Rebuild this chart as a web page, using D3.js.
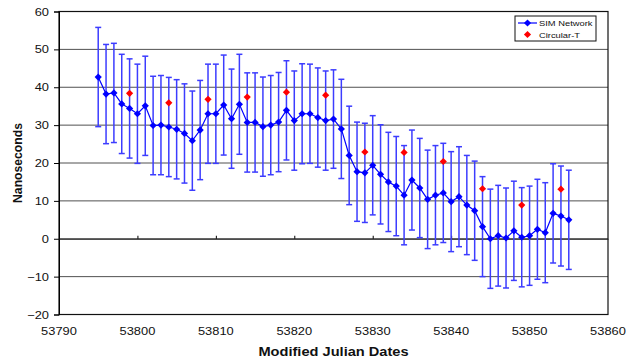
<!DOCTYPE html>
<html>
<head>
<meta charset="utf-8">
<script src="https://cdn.jsdelivr.net/npm/d3@7"></script>
<style>
  body { margin: 0; background: #fff; }
  text { font-family: "Liberation Sans", Arial, sans-serif; }
</style>
</head>
<body>
<svg id="chart" width="636" height="360"></svg>
<script>
// SIM Network daily values (MJD 53795..53855)
var simDates = d3.range(53795, 53856);
var simValues = [42.7, 38.2, 38.5, 35.6, 34.4, 33.0, 35.1, 29.9, 30.0, 29.5,
                 28.9, 27.8, 25.9, 28.7, 33.0, 33.0, 35.3, 31.7, 35.5, 30.7,
                 30.7, 29.6, 30.0, 30.8, 33.9, 31.2, 33.0, 33.0, 32.0, 31.2,
                 31.6, 29.0, 22.0, 17.7, 17.4, 19.4, 17.0, 15.0, 13.9, 11.5,
                 15.5, 13.4, 10.4, 11.5, 12.1, 9.8, 11.1, 8.9, 7.4, 3.2,
                 0.0, 0.8, 0.2, 2.1, 0.4, 0.8, 2.5, 1.6, 6.7, 6.0,
                 5.0];
var simErrors = [13.1, 13.1, 13.1, 13.1, 13.1, 13.1, 13.1, 13.0, 13.1, 13.1,
                 13.1, 13.1, 13.1, 13.1, 13.1, 13.1, 13.2, 13.1, 13.2, 13.1,
                 13.1, 13.1, 13.1, 13.1, 13.1, 13.1, 13.2, 13.1, 13.1, 13.1,
                 13.0, 13.1, 13.0, 13.1, 13.1, 13.1, 13.1, 13.1, 13.1, 13.1,
                 13.2, 13.1, 13.0, 13.1, 13.1, 13.2, 13.2, 13.1, 13.1, 13.2,
                 13.1, 13.3, 13.2, 13.1, 13.1, 13.1, 13.2, 13.2, 13.1, 13.2,
                 13.1];

// Circular-T values, every 5 days
var circDates = [53799, 53804, 53809, 53814, 53819, 53824, 53829, 53834, 53839, 53844, 53849, 53854];
var circValues = [38.4, 35.9, 36.8, 37.4, 38.7, 37.9, 22.9, 22.8, 20.4, 13.2, 8.9, 13.1];

var xTicks = [53790, 53800, 53810, 53820, 53830, 53840, 53850, 53860];
var yTicks = [-20, -10, 0, 10, 20, 30, 40, 50, 60];

var svg = d3.select("#chart"),
    plotLeft = 59, plotRight = 608, plotTop = 11.5, plotBottom = 314.5,
    stretch = 1.17;

var x = d3.scaleLinear().domain([53790, 53860]).range([plotLeft, plotRight]),
    y = d3.scaleLinear().domain([-20, 60]).range([plotBottom, plotTop]);

var sim = simDates.map(function(d, i) {
    return {mjd: d, value: simValues[i], err: simErrors[i]};
});
var circ = circDates.map(function(d, i) {
    return {mjd: d, value: circValues[i]};
});

// gridlines
svg.append("g")
    .selectAll("line")
    .data(yTicks.slice(1, -1))
    .enter().append("line")
    .attr("x1", plotLeft).attr("x2", plotRight)
    .attr("y1", function(d) { return y(d); })
    .attr("y2", function(d) { return y(d); })
    .attr("stroke", "#505050")
    .attr("stroke-width", 1);

// plot border
svg.append("rect")
    .attr("x", plotLeft).attr("y", plotTop)
    .attr("width", plotRight - plotLeft).attr("height", plotBottom - plotTop)
    .attr("fill", "none")
    .attr("stroke", "#111")
    .attr("stroke-width", 1.2);

// y axis
var yAxis = svg.append("g")
    .attr("transform", "translate(" + plotLeft + ",0)")
    .call(d3.axisLeft(y).tickValues(yTicks).tickSize(5).tickPadding(0));
yAxis.select(".domain").attr("stroke", "#000");
yAxis.selectAll("text")
    .attr("x", -10 / stretch)
    .attr("transform", "scale(" + stretch + ",1)")
    .attr("font-size", 11)
    .attr("fill", "#111")
    .style("font-family", "Liberation Sans, Arial, sans-serif");

// x axis labels along the bottom
var xAxis = svg.append("g")
    .attr("transform", "translate(0," + plotBottom + ")")
    .call(d3.axisBottom(x).tickValues(xTicks).tickSize(0).tickPadding(13).tickFormat(d3.format("d")));
xAxis.select(".domain").remove();
xAxis.selectAll("text")
    .attr("transform", "scale(" + stretch + ",1)")
    .attr("x", 0)
    .attr("font-size", 11)
    .attr("fill", "#111")
    .style("font-family", "Liberation Sans, Arial, sans-serif");
xAxis.selectAll(".tick")
    .attr("transform", function(d) { return "translate(" + x(d) + ",0)"; });

// x axis line crossing at zero
var zeroAxis = svg.append("g")
    .attr("transform", "translate(0," + y(0) + ")")
    .call(d3.axisTop(x).tickValues(xTicks.slice(1, -1)).tickSizeInner(3).tickSizeOuter(0).tickFormat(""));
zeroAxis.select(".domain").attr("stroke", "#222");

// error bars
var bars = svg.append("g")
    .attr("stroke", "#3c3cff")
    .attr("stroke-width", 1.5);
bars.selectAll(".stem")
    .data(sim)
    .enter().append("line")
    .attr("x1", function(d) { return x(d.mjd); })
    .attr("x2", function(d) { return x(d.mjd); })
    .attr("y1", function(d) { return y(d.value + d.err); })
    .attr("y2", function(d) { return y(d.value - d.err); });
bars.selectAll(".capTop")
    .data(sim)
    .enter().append("line")
    .attr("x1", function(d) { return x(d.mjd) - 3; })
    .attr("x2", function(d) { return x(d.mjd) + 3; })
    .attr("y1", function(d) { return y(d.value + d.err); })
    .attr("y2", function(d) { return y(d.value + d.err); });
bars.selectAll(".capBottom")
    .data(sim)
    .enter().append("line")
    .attr("x1", function(d) { return x(d.mjd) - 3; })
    .attr("x2", function(d) { return x(d.mjd) + 3; })
    .attr("y1", function(d) { return y(d.value - d.err); })
    .attr("y2", function(d) { return y(d.value - d.err); });

// SIM line and markers
var line = d3.line()
    .x(function(d) { return x(d.mjd); })
    .y(function(d) { return y(d.value); });
svg.append("path")
    .datum(sim)
    .attr("d", line)
    .attr("fill", "none")
    .attr("stroke", "#0000ff")
    .attr("stroke-width", 1.2);

var diamond = d3.symbol().type(d3.symbolSquare).size(26);
svg.append("g")
    .selectAll("path")
    .data(sim)
    .enter().append("path")
    .attr("d", diamond)
    .attr("transform", function(d) { return "translate(" + x(d.mjd) + "," + y(d.value) + ") rotate(45)"; })
    .attr("fill", "#0000ff");

svg.append("g")
    .selectAll("path")
    .data(circ)
    .enter().append("path")
    .attr("d", diamond)
    .attr("transform", function(d) { return "translate(" + x(d.mjd) + "," + y(d.value) + ") rotate(45)"; })
    .attr("fill", "#ff0000");

// axis titles
svg.append("text")
    .attr("transform", "translate(" + ((plotLeft + plotRight) / 2) + ",356) scale(" + stretch + ",1)")
    .attr("text-anchor", "middle")
    .attr("font-weight", "bold")
    .attr("font-size", 12.5)
    .attr("fill", "#111")
    .text("Modified Julian Dates");

svg.append("text")
    .attr("transform", "translate(22," + ((plotTop + plotBottom) / 2) + ") rotate(-90)")
    .attr("text-anchor", "middle")
    .attr("font-weight", "bold")
    .attr("font-size", 12.2)
    .attr("fill", "#111")
    .text("Nanoseconds");

// legend
var legend = svg.append("g").attr("transform", "translate(515,16)");
legend.append("rect")
    .attr("width", 81).attr("height", 25)
    .attr("fill", "#fff")
    .attr("stroke", "#111")
    .attr("stroke-width", 1);
legend.append("line")
    .attr("x1", 3).attr("x2", 22).attr("y1", 7).attr("y2", 7)
    .attr("stroke", "#0000ff").attr("stroke-width", 1.2);
legend.append("path")
    .attr("d", diamond)
    .attr("transform", "translate(12.5,7) rotate(45)")
    .attr("fill", "#0000ff");
legend.append("path")
    .attr("d", diamond)
    .attr("transform", "translate(12.5,18.5) rotate(45)")
    .attr("fill", "#ff0000");
legend.selectAll(".label")
    .data(["SIM Network", "Circular-T"])
    .enter().append("text")
    .attr("transform", function(d, i) { return "translate(24," + (10 + i * 11.5) + ") scale(" + stretch + ",1)"; })
    .attr("font-size", 8)
    .attr("fill", "#111")
    .text(function(d) { return d; });
</script>
</body>
</html>
